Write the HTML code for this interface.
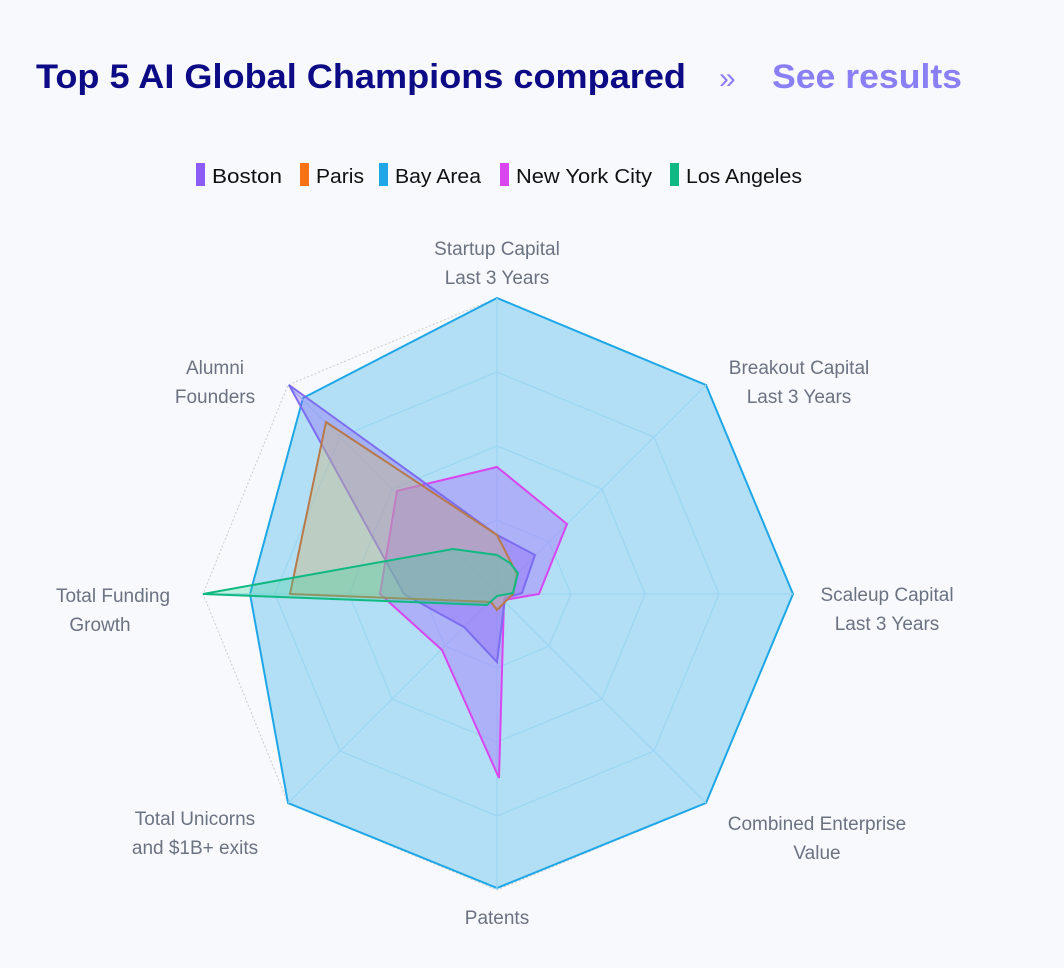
<!DOCTYPE html>
<html><head><meta charset="utf-8"><style>
html,body{margin:0;padding:0;background:#f8f9fd;}
svg{display:block;font-family:"Liberation Sans",sans-serif;}
</style></head><body>
<svg width="1064" height="968" viewBox="0 0 1064 968">
<rect width="1064" height="968" fill="#f8f9fd"/>
<text x="36" y="88" font-size="34" font-weight="bold" fill="#0c0a85" textLength="650" lengthAdjust="spacingAndGlyphs">Top 5 AI Global Champions compared</text>
<text x="719" y="88" font-size="30" fill="#8b7ff5">»</text>
<text x="772" y="88" font-size="34" font-weight="bold" fill="#8b7ff5" textLength="190" lengthAdjust="spacingAndGlyphs">See results</text>
<g font-size="20" fill="#111">
<rect x="196" y="163" width="9" height="23" fill="#8b5cf6"/><text x="212" y="183" textLength="70" lengthAdjust="spacingAndGlyphs">Boston</text>
<rect x="300" y="163" width="9" height="23" fill="#f97316"/><text x="316" y="183" textLength="48" lengthAdjust="spacingAndGlyphs">Paris</text>
<rect x="379" y="163" width="9" height="23" fill="#1ea7e6"/><text x="395" y="183" textLength="86" lengthAdjust="spacingAndGlyphs">Bay Area</text>
<rect x="500" y="163" width="9" height="23" fill="#d946ef"/><text x="516" y="183" textLength="136" lengthAdjust="spacingAndGlyphs">New York City</text>
<rect x="670" y="163" width="9" height="23" fill="#10b981"/><text x="686" y="183" textLength="116" lengthAdjust="spacingAndGlyphs">Los Angeles</text>
</g>
<!-- outer dotted grid -->
<polygon points="497,298 706,385 793,594 706,803 497,890 288,803 203,594 288,385" fill="none" stroke="#ccc" stroke-dasharray="2,2"/>
<!-- Bay Area -->
<polygon points="497,298 706,385 793,594 706,803 497,888 288,803 250,594 303,398" fill="#1ea7e6" fill-opacity="0.32" stroke="#1ea7e6" stroke-width="2"/>
<g fill="none" stroke="#9dd6f3" stroke-width="1.3">
<polygon points="497,372 654,437 719,594 654,751 497,816 340,751 275,594 340,437"/>
<polygon points="497,446 602,489 645,594 602,699 497,742 392,699 349,594 392,489"/>
<polygon points="497,520 549,542 571,594 549,646 497,668 445,646 423,594 445,542"/>
<line x1="497" y1="298" x2="497" y2="890"/><line x1="203" y1="594" x2="793" y2="594"/>
<line x1="288" y1="385" x2="706" y2="803"/><line x1="706" y1="385" x2="288" y2="803"/>
</g>
<!-- NYC -->
<polygon points="497,467 567,524 539,594 504,600 499,778 442,650 380,594 397,491" fill="#a78bfa" fill-opacity="0.55" stroke="#d946ef" stroke-width="2"/>
<!-- Boston -->
<polygon points="497,535 535,555 522,593 505,598 497,662 464,627 404,594 289,385" fill="#8b5cf6" fill-opacity="0.35" stroke="#7c6cf0" stroke-width="2"/>
<!-- Paris -->
<polygon points="497,535 517,574 513,594 497,610 491,602 290,594 326,422" fill="#c8b98a" fill-opacity="0.45" stroke="#b87a4a" stroke-width="2"/>
<!-- LA -->
<polygon points="497,555 510,563 518,573 513,593 497,596 487,605 203,594 453,549" fill="#34d399" fill-opacity="0.3" stroke="#10b981" stroke-width="2"/>
<g font-size="19" fill="#6b7280" text-anchor="middle">
<text x="497" y="255">Startup Capital</text><text x="497" y="284">Last 3 Years</text>
<text x="799" y="374">Breakout Capital</text><text x="799" y="403">Last 3 Years</text>
<text x="887" y="601">Scaleup Capital</text><text x="887" y="630">Last 3 Years</text>
<text x="817" y="830">Combined Enterprise</text><text x="817" y="859">Value</text>
<text x="497" y="924">Patents</text>
<text x="195" y="825">Total Unicorns</text><text x="195" y="854">and $1B+ exits</text>
<text x="113" y="602">Total Funding</text><text x="100" y="631">Growth</text>
<text x="215" y="374">Alumni</text><text x="215" y="403">Founders</text>
</g>
</svg>
</body></html>
